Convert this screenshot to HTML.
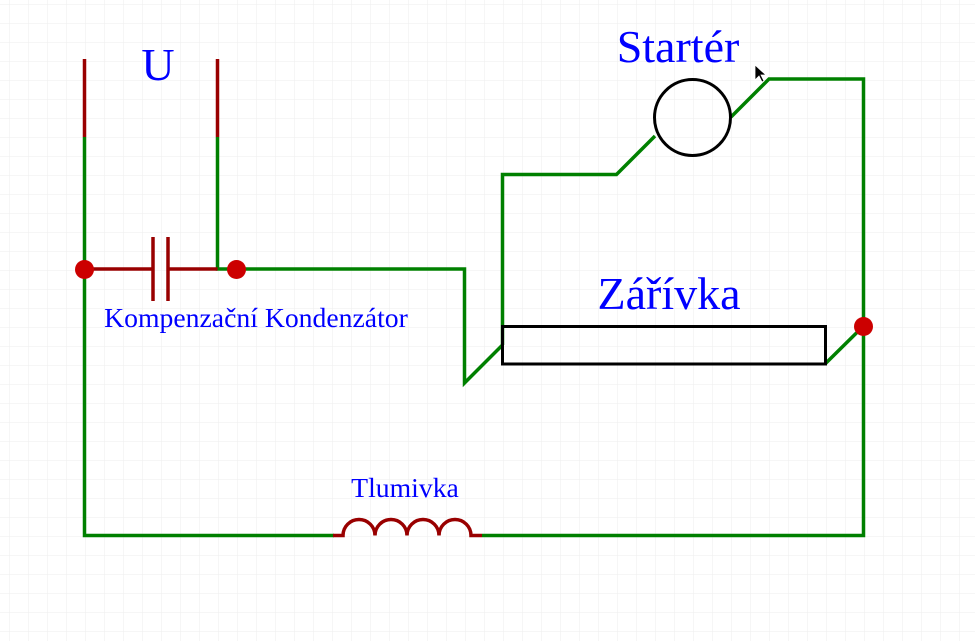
<!DOCTYPE html>
<html><head><meta charset="utf-8"><style>
html,body{margin:0;padding:0;background:#fff;}
svg{display:block;}
</style></head><body>
<svg width="975" height="641" viewBox="0 0 975 641" xmlns="http://www.w3.org/2000/svg">
<defs>
<pattern id="g" x="9" y="4" width="19" height="19" patternUnits="userSpaceOnUse">
<path d="M0 0H19M0 0V19" stroke="#eeeeee" stroke-width="1" fill="none"/>
</pattern>
</defs>
<rect width="975" height="641" fill="url(#g)"/>
<g fill="none" stroke-width="3.5" stroke-linecap="butt">
<g stroke="#008000">
<path d="M84.5 137V535.5H334"/>
<path d="M482 535.5H863.5V79H769L731 117"/>
<path d="M217.5 137V269H464.5V383L502.5 345"/>
<path d="M502.5 345V174.5H616.5L655 136"/>
<path d="M825 364L863.5 326"/>
</g>
<g stroke="#990000">
<path d="M84.5 59V137M217.5 59V137"/>
<path d="M84.5 269H153M168 269H217.5"/>
<path d="M153 237V301M168 237V301"/>
<path d="M333 535.5H343A16 16 0 0 1 375 535.5A16 16 0 0 1 407 535.5A16 16 0 0 1 439 535.5A16 16 0 0 1 471 535.5H482"/>
</g>
<g stroke="#000" stroke-width="3">
<circle cx="692.5" cy="117.5" r="38"/>
<rect x="502.5" y="326.5" width="323" height="37.5"/>
</g>
</g>
<g fill="#cc0000">
<circle cx="84.5" cy="269.5" r="9.5"/>
<circle cx="236.5" cy="269.5" r="9.5"/>
<circle cx="863.5" cy="326.5" r="9.5"/>
</g>
<path d="M755 65L755 80L759 76L762 82L764 81L761 75L766 75Z" fill="#000" stroke="#fff" stroke-width="0.8"/>
<g fill="#0000ff" font-family="Liberation Serif, serif">
<text x="158" y="80" font-size="46" text-anchor="middle">U</text>
<text x="678" y="62" font-size="46" text-anchor="middle">Startér</text>
<text x="669" y="309" font-size="46" text-anchor="middle">Zářívka</text>
<text x="256" y="327" font-size="27.7" text-anchor="middle">Kompenzační Kondenzátor</text>
<text x="405" y="497" font-size="27.7" text-anchor="middle">Tlumivka</text>
</g>
</svg>
</body></html>
